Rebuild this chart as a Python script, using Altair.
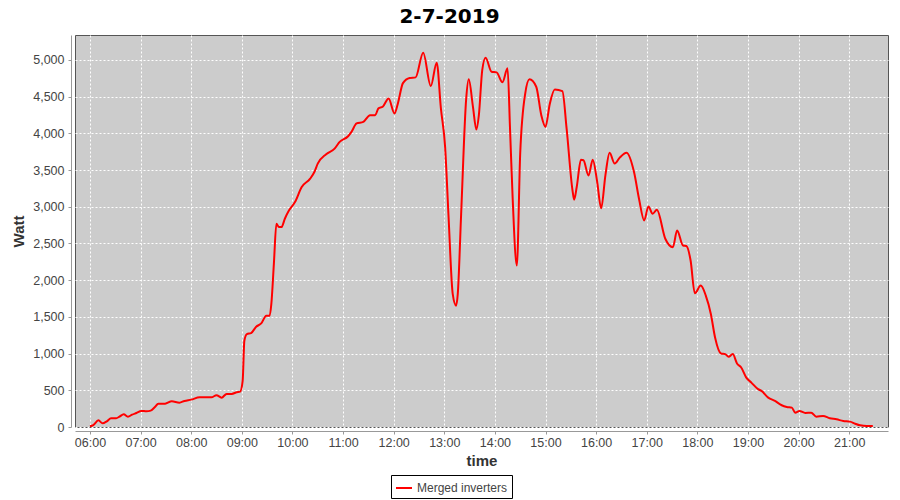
import altair as alt
import pandas as pd

# Readings (local time, watts) for 2-7-2019
times = [
    "06:00", "06:04", "06:10", "06:15", "06:20", "06:25", "06:31", "06:35", "06:40", "06:45",
    "06:50", "06:55", "07:01", "07:07", "07:12", "07:17", "07:21", "07:29", "07:37", "07:46",
    "07:52", "08:00", "08:10", "08:24", "08:30", "08:36", "08:42", "08:48", "08:54", "08:58",
    "09:01", "09:03", "09:06", "09:11", "09:17", "09:23", "09:29", "09:33", "09:35", "09:38",
    "09:41", "09:44", "09:47", "09:51", "09:56", "10:03", "10:11", "10:21", "10:26", "10:30",
    "10:40", "10:50", "10:56", "11:06", "11:10", "11:16", "11:24", "11:32", "11:38", "11:42",
    "11:47", "11:54", "12:01", "12:05", "12:11", "12:19", "12:26", "12:35", "12:44", "12:51",
    "12:56", "13:01", "13:05", "13:10", "13:14", "13:16", "13:20", "13:26", "13:29", "13:34",
    "13:38", "13:41", "13:45", "13:49", "13:56", "14:02", "14:09", "14:15", "14:18", "14:21",
    "14:26", "14:30", "14:36", "14:41", "14:49", "14:55", "15:00", "15:05", "15:11", "15:20",
    "15:25", "15:32", "15:34", "15:37", "15:42", "15:45", "15:51", "15:56", "16:01", "16:06",
    "16:11", "16:16", "16:22", "16:28", "16:36", "16:45", "16:51", "16:57", "17:02", "17:07",
    "17:12", "17:22", "17:31", "17:36", "17:43", "17:47", "17:52", "17:57", "18:04", "18:10",
    "18:16", "18:21", "18:28", "18:33", "18:37", "18:42", "18:47", "18:52", "18:58", "19:04",
    "19:12", "19:16", "19:24", "19:32", "19:40", "19:46", "19:52", "19:56", "20:01", "20:08",
    "20:15", "20:21", "20:29", "20:37", "20:45", "20:53", "21:01", "21:07", "21:13", "21:21",
    "21:28",
]
watts = [
    10, 27, 91, 50, 78, 119, 119, 141, 173, 141,
    168, 191, 219, 214, 223, 273, 318, 318, 351, 332,
    355, 373, 405, 405, 433, 400, 451, 451, 474, 482,
    628, 1175, 1266, 1280, 1366, 1411, 1516, 1516, 1676, 2222,
    2769, 2723, 2723, 2837, 2951, 3064, 3269, 3383, 3474, 3588,
    3716, 3793, 3884, 3961, 4020, 4135, 4157, 4248, 4248, 4340,
    4362, 4476, 4272, 4408, 4685, 4755, 4763, 5099, 4644, 4963,
    4340, 3815, 2882, 1813, 1653, 1813, 2905, 4476, 4736, 4362,
    4053, 4248, 4863, 5031, 4840, 4831, 4695, 4886, 4043, 3132,
    2199, 3725, 4545, 4736, 4635, 4248, 4088, 4398, 4599, 4576,
    4067, 3224, 3097, 3269, 3640, 3634, 3425, 3640, 3360, 2980,
    3429, 3736, 3588, 3670, 3736, 3470, 3100, 2814, 3005, 2905,
    2960, 2564, 2450, 2677, 2472, 2465, 2268, 1821, 1926, 1790,
    1540, 1220, 1001, 993, 956, 993, 865, 810, 673, 605,
    515, 492, 400, 355, 296, 273, 264, 195, 219, 191,
    195, 141, 150, 119, 105, 82, 73, 45, 23, 14,
    14,
]
hour_ticks = list(range(6, 22))
watt_ticks = list(range(0, 5001, 500))
series_name = "Merged inverters"
chart_title = "2-7-2019"

df = pd.DataFrame({
    "time": ["2019-07-02T" + t + ":00" for t in times],
    "watt": watts,
    "series": series_name,
})

x_domain = [
    alt.DateTime(year=2019, month=7, date=2, hours=5, minutes=42, seconds=15),
    alt.DateTime(year=2019, month=7, date=2, hours=21, minutes=46, seconds=0),
]
x_values = [alt.DateTime(year=2019, month=7, date=2, hours=h) for h in hour_ticks]

chart = (
    alt.Chart(df)
    .mark_line(interpolate="monotone", strokeWidth=2)
    .encode(
        x=alt.X(
            "time:T",
            title="time",
            scale=alt.Scale(domain=x_domain, nice=False),
            axis=alt.Axis(
                format="%H:%M",
                values=x_values,
                offset=4,
                labelPadding=2,
                titlePadding=5,
            ),
        ),
        y=alt.Y(
            "watt:Q",
            title="Watt",
            scale=alt.Scale(domain=[0, 5340], nice=False),
            axis=alt.Axis(
                values=watt_ticks,
                format=",d",
                offset=4,
                labelPadding=4,
                titlePadding=6,
            ),
        ),
        color=alt.Color(
            "series:N",
            scale=alt.Scale(domain=[series_name], range=["#ff0000"]),
            legend=alt.Legend(
                title=None,
                orient="none",
                legendX=316,
                legendY=440,
                symbolType="stroke",
                symbolSize=256,
                symbolStrokeWidth=2,
                labelFont="Liberation Sans",
                labelFontSize=12,
                labelColor="#444444",
                labelOffset=4,
                padding=4,
                strokeColor="black",
                fillColor="white",
                cornerRadius=0,
            ),
        ),
    )
    .properties(
        width=813,
        height=392,
        title=alt.TitleParams(
            chart_title,
            font="DejaVu Sans",
            fontSize=20,
            fontWeight="bold",
            color="black",
            anchor="middle",
            offset=8,
            dx=-32,
        ),
        autosize=alt.AutoSizeParams(type="none"),
        padding={"left": 67, "top": 27, "right": 4, "bottom": 73},
    )
    .configure_view(fill="#cccccc", stroke="#555555", strokeWidth=1)
    .configure_axis(
        grid=True,
        gridColor="#ffffff",
        gridDash=[2, 2],
        gridWidth=1,
        domainColor="#999999",
        tickColor="#999999",
        tickSize=3,
        labelColor="#444444",
        labelFont="Liberation Sans",
        labelFontSize=12.5,
        titleFont="Liberation Sans",
        titleFontSize=15,
        titleFontWeight="bold",
        titleColor="#333333",
    )
)

chart.save("out.html", embed_options={"renderer": "svg", "actions": False})
